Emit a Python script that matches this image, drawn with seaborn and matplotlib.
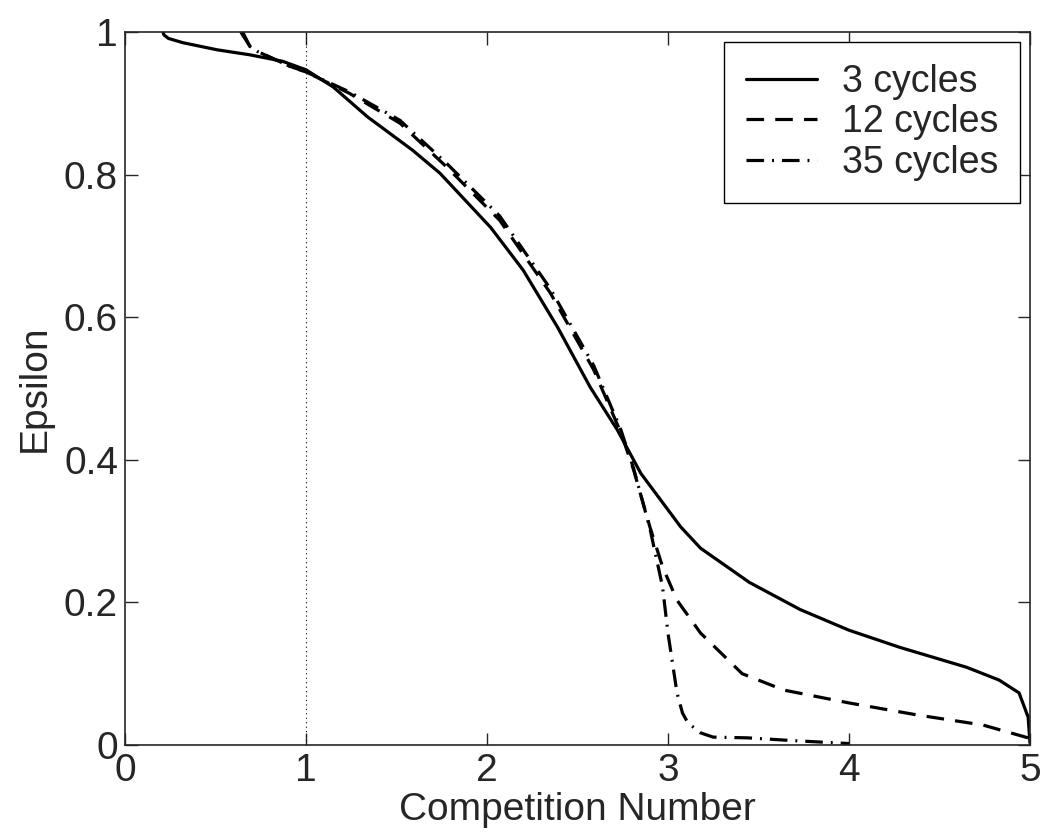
import numpy as np
import pandas as pd
import matplotlib
matplotlib.use("Agg")
import matplotlib.pyplot as plt
import seaborn as sns

# data
x3 = [0.21, 0.215, 0.24, 0.32, 0.51, 0.69, 0.87, 1.0, 1.15, 1.34, 1.59, 1.74, 2.02, 2.20,
      2.39, 2.57, 2.72, 2.85, 3.07, 3.18, 3.45, 3.73, 4.0, 4.28, 4.65, 4.83, 4.94, 4.99, 5.0]
y3 = [1.0, 0.996, 0.991, 0.985, 0.975, 0.968, 0.959, 0.947, 0.923, 0.881, 0.834, 0.802, 0.726, 0.666,
      0.586, 0.502, 0.442, 0.381, 0.306, 0.276, 0.228, 0.190, 0.161, 0.137, 0.109, 0.091, 0.073, 0.039, 0.003]

x12 = [0.65, 0.69, 0.73, 0.91, 1.0, 1.24, 1.52, 1.78, 2.07, 2.35, 2.59, 2.74, 2.81, 2.90,
       2.97, 3.05, 3.18, 3.41, 3.64, 4.0, 4.38, 4.74, 4.99]
y12 = [1.0, 0.98, 0.973, 0.952, 0.944, 0.914, 0.872, 0.81, 0.736, 0.634, 0.526, 0.438, 0.386, 0.306,
       0.25, 0.203, 0.157, 0.10, 0.077, 0.059, 0.042, 0.028, 0.01]

x35 = [0.64, 0.69, 0.73, 0.91, 1.0, 1.24, 1.52, 1.78, 2.07, 2.35, 2.59, 2.74, 2.81, 2.90,
       2.97, 3.0, 3.05, 3.08, 3.11, 3.18, 3.25, 3.44, 3.7, 4.0]
y35 = [1.0, 0.98, 0.973, 0.952, 0.944, 0.916, 0.876, 0.815, 0.742, 0.64, 0.532, 0.442, 0.388, 0.304,
       0.222, 0.157, 0.073, 0.045, 0.031, 0.017, 0.011, 0.01, 0.006, 0.002]

labels = ["3 cycles", "12 cycles", "35 cycles"]
xticks = [0, 1, 2, 3, 4, 5]
yticks = [0, 0.2, 0.4, 0.6, 0.8, 1]
yticklabels = ["0", "0.2", "0.4", "0.6", "0.8", "1"]

sns.set_style("ticks")
plt.rcParams['font.family'] = ['Liberation Sans', 'DejaVu Sans']

fig = plt.figure(figsize=(10.45, 8.38), dpi=100)
ax = fig.add_axes([0.1196, 0.111, 0.866, 0.8508])

sns.lineplot(x=x3, y=y3, ax=ax, color='black', linewidth=2.3, label=labels[0],
             estimator=None, sort=False)
sns.lineplot(x=x12, y=y12, ax=ax, color='black', linewidth=2.3, label=labels[1],
             estimator=None, sort=False)
sns.lineplot(x=x35, y=y35, ax=ax, color='black', linewidth=2.3, label=labels[2],
             estimator=None, sort=False)
lines = ax.get_lines()
lines[1].set_dashes((5.5, 3.5))
lines[2].set_dashes((5.5, 2.5, 0.6, 2.5))

ax.axvline(1, color='black', linewidth=0.8, linestyle=(0, (1, 3)))

ax.set_xlim(0, 5)
ax.set_ylim(0, 1)
ax.set_xticks(xticks)
ax.set_xticklabels([str(t) for t in xticks])
ax.set_yticks(yticks)
ax.set_yticklabels(yticklabels)
ax.tick_params(direction='in', length=9, width=1, top=True, right=True,
               labelsize=28)
ax.tick_params(axis='x', pad=6)
ax.tick_params(axis='y', pad=5)
for s in ax.spines.values():
    s.set_linewidth(1.2)
    s.set_visible(True)

ax.set_xlabel("Competition Number", fontsize=28, labelpad=2)
ax.set_ylabel("Epsilon", fontsize=28, labelpad=8)

leg = ax.legend(loc='upper right', fontsize=27, frameon=True, fancybox=False,
                edgecolor='black', handlelength=1.9, borderaxespad=0.27,
                labelspacing=0.12, handletextpad=0.65, borderpad=0.58)
leg.get_frame().set_linewidth(1)
leg.get_frame().set_alpha(1)

fig.savefig("out.png", dpi=100)
